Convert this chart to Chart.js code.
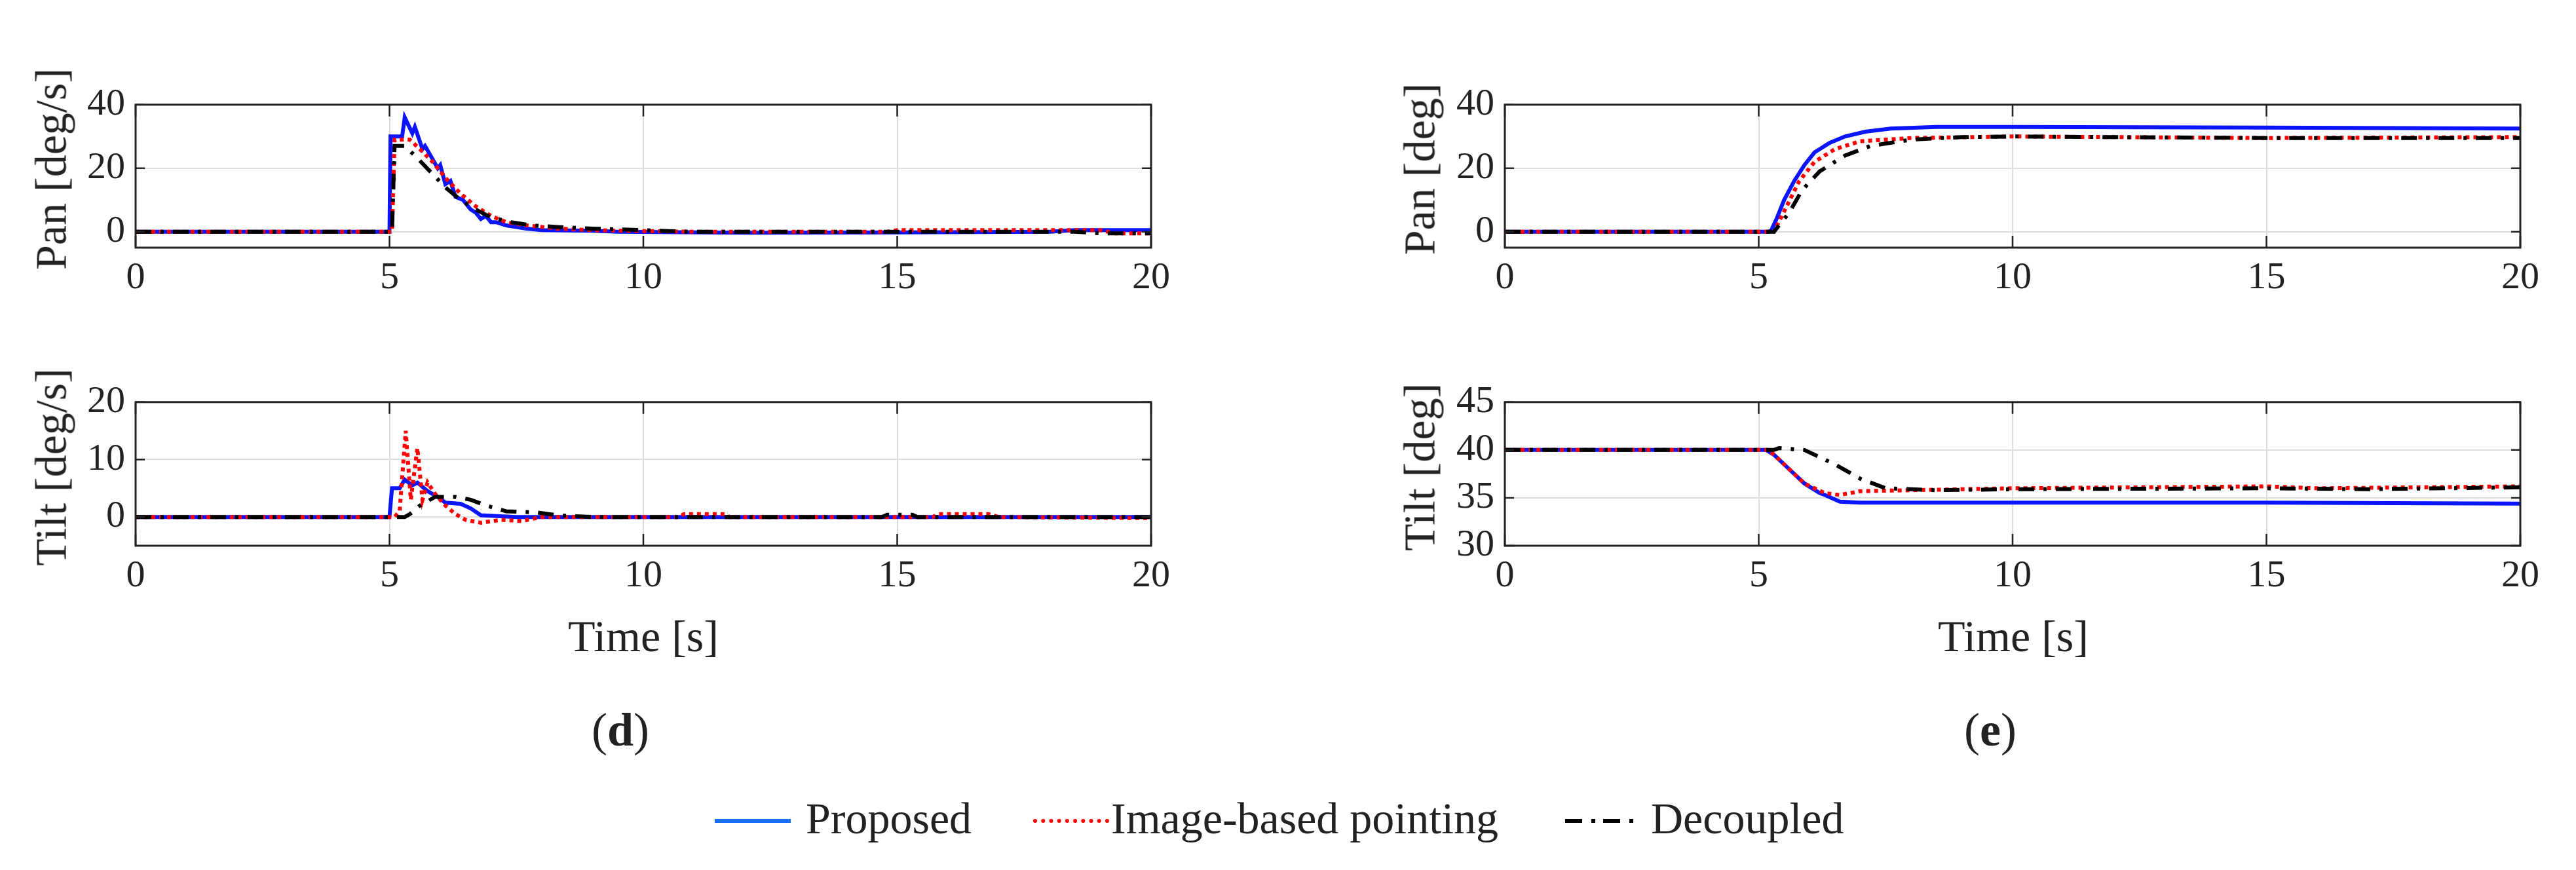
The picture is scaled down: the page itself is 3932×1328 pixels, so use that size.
<!DOCTYPE html>
<html>
<head>
<meta charset="utf-8">
<script src="https://cdn.jsdelivr.net/npm/chart.js@4.4.1/dist/chart.umd.min.js"></script>
<style>
  body { margin: 0; background: #fff; width: 3932px; height: 1328px; position: relative; overflow: hidden; font-family: "Liberation Serif", serif; color: #222; }
  canvas { position: absolute; }
  .t { position: absolute; font-size: 68px; white-space: nowrap; }
  .yt { position: absolute; font-size: 68px; white-space: nowrap; transform: translate(-50%, -50%) rotate(-90deg); }
  .leg { position: absolute; top: 1253px; height: 0; }
  .sw { position: absolute; width: 116px; top: -3px; }
</style>
</head>
<body>
<canvas id="dPan"></canvas>
<canvas id="dTilt"></canvas>
<canvas id="ePan"></canvas>
<canvas id="eTilt"></canvas>

<div class="yt" style="left:78px; top:258px;">Pan [deg/s]</div>
<div class="yt" style="left:78px; top:713px;">Tilt [deg/s]</div>
<div class="yt" style="left:2167px; top:258px;">Pan [deg]</div>
<div class="yt" style="left:2167px; top:713px;">Tilt [deg]</div>
<div class="t" style="left:982px; top:932px; transform:translateX(-50%);">Time [s]</div>
<div class="t" style="left:3073px; top:932px; transform:translateX(-50%);">Time [s]</div>
<div class="t" style="left:947px; top:1073px; transform:translateX(-50%); font-size:72px;">(<b>d</b>)</div>
<div class="t" style="left:3038px; top:1073px; transform:translateX(-50%); font-size:72px;">(<b>e</b>)</div>

<div class="leg" style="left:1091px;"><div class="sw" style="border-top:6px solid #1a6cff;"></div></div>
<div class="t" style="left:1230px; top:1210px;">Proposed</div>
<div class="leg" style="left:1577px;"><div class="sw" style="border-top:6px dotted #ff0000;"></div></div>
<div class="t" style="left:1696px; top:1210px;">Image-based pointing</div>
<div class="leg" style="left:2389px;"><div class="sw" style="height:6px; background:repeating-linear-gradient(90deg,#000 0 26px,#fff 26px 40px,#000 40px 46px,#fff 46px 58px);"></div></div>
<div class="t" style="left:2520px; top:1210px;">Decoupled</div>

<script>
// ---- data (time [s], value) ----
// (d) pan rate
const dPanPropT = [0, 5.0, 5.02, 5.25, 5.3, 5.45, 5.5, 5.65, 5.7, 5.95, 6.0, 6.1, 6.2, 6.3, 6.45, 6.6, 6.7, 6.8, 6.9, 7.0, 7.1, 7.3, 7.5, 7.7, 8.0, 9.0, 9.5, 12, 15, 18, 18.5, 20];
const dPanPropY = [0, 0, 30, 30, 36, 31, 33, 26, 27, 20, 21, 15, 16, 11, 10, 7, 6, 4, 5, 3, 3, 2, 1.5, 1, 0.5, 0.3, 0, -0.3, -0.2, 0, 0.5, 0.5];
const dPanImgT = [0, 5.05, 5.1, 5.4, 5.6, 5.85, 6.1, 6.4, 6.7, 7.0, 7.3, 7.7, 8.3, 9.0, 10, 11, 14.8, 15, 19, 19.3, 20];
const dPanImgY = [0, 0, 29, 29, 26, 22, 17, 12, 8, 5, 3, 2, 1, 0.5, 0.2, 0, 0, 0.5, 0.5, -0.5, -0.5];
const dPanDecT = [0, 5.05, 5.1, 5.3, 5.5, 5.8, 6.1, 6.4, 6.7, 7.0, 7.4, 7.8, 8.3, 9.0, 10, 10.5, 11, 18.5, 19, 20];
const dPanDecY = [0, 0, 27, 27, 24, 19, 14, 10, 7, 4.5, 3, 2, 1.5, 1, 0.5, 0.2, 0, 0, -0.5, -0.5];
// (d) tilt rate
const dTiltPropT = [0, 5.0, 5.05, 5.2, 5.3, 5.45, 5.55, 5.75, 5.95, 6.1, 6.4, 6.6, 6.8, 7.5, 20];
const dTiltPropY = [0, 0, 5, 5, 6.5, 5.5, 6, 4.5, 3.5, 2.5, 2.3, 1.5, 0.3, 0, 0];
const dTiltImgT = [0, 5.1, 5.2, 5.32, 5.42, 5.55, 5.65, 5.75, 5.9, 6.1, 6.3, 6.5, 6.8, 7.2, 7.6, 8.0, 10.7, 10.8, 11.6, 11.7, 15.7, 15.8, 16.8, 17, 20];
const dTiltImgY = [0, 0, 1, 15, 3, 12, 3, 6, 4, 2, 0.5, -0.5, -1, -0.5, -0.7, 0, 0, 0.5, 0.5, 0, 0, 0.5, 0.5, 0, -0.2];
const dTiltDecT = [0, 5.3, 5.4, 5.6, 5.9, 6.3, 6.6, 6.9, 7.3, 7.9, 8.3, 9.0, 14.7, 14.8, 15.3, 15.4, 20];
const dTiltDecY = [0, 0, 0.5, 2, 3.5, 3.5, 3, 2, 1, 0.8, 0.3, 0, 0, 0.4, 0.4, 0, 0];
// (e) pan angle
const ePanPropT = [0, 5.2, 5.25, 5.35, 5.5, 5.7, 5.9, 6.1, 6.4, 6.7, 7.1, 7.6, 8.5, 10, 15, 20];
const ePanPropY = [0, 0, 0.5, 4, 10, 16, 21, 25, 28, 30, 31.5, 32.5, 33, 33, 32.8, 32.5];
const ePanImgT = [0, 5.3, 5.55, 5.8, 6.1, 6.5, 7.0, 8.0, 10, 15, 20];
const ePanImgY = [0, 0, 8, 16, 22, 26, 28.5, 29.5, 30, 29.5, 29.8];
const ePanDecT = [0, 5.3, 5.6, 5.85, 6.2, 6.7, 7.2, 8.0, 9.0, 10, 15, 20];
const ePanDecY = [0, 0, 6, 13, 19, 24, 27, 29, 29.8, 30, 29.5, 29.5];
// (e) tilt angle
const eTiltPropT = [0, 5.15, 5.3, 5.6, 5.9, 6.2, 6.3, 6.6, 7.0, 15, 20];
const eTiltPropY = [40, 40, 39.5, 38, 36.5, 35.5, 35.3, 34.6, 34.5, 34.5, 34.4];
const eTiltImgT = [0, 5.2, 5.5, 5.9, 6.3, 6.6, 7.0, 8.0, 10, 15, 16, 20];
const eTiltImgY = [40, 40, 38.5, 36.5, 35.5, 35.3, 35.7, 35.8, 36.0, 36.2, 36.0, 36.2];
const eTiltDecT = [0, 5.3, 5.4, 5.9, 6.5, 7.0, 7.5, 8.5, 10, 15, 17, 20];
const eTiltDecY = [40, 40, 40.2, 40, 38.5, 37, 36, 35.8, 35.9, 36, 35.9, 36.1];

const timeTicks = [0, 5, 10, 15, 20];
const panRateTicks = [0, 20, 40];
const tiltRateTicks = [0, 10, 20];
const panTicks = [0, 20, 40];
const tiltTicks = [30, 35, 40, 45];

const pts = (t, y) => t.map((x, i) => ({ x: x, y: y[i] }));

const YW = 140, XH = 90, PADT = 30, PADR = 40;
const FONT = { family: "'Liberation Serif', serif", size: 58 };

const boxPlugin = {
  id: "box",
  afterDraw(chart) {
    const { ctx, chartArea: a, scales } = chart;
    ctx.save();
    ctx.strokeStyle = "#222";
    ctx.lineWidth = 3;
    ctx.strokeRect(a.left, a.top, a.right - a.left, a.bottom - a.top);
    // inner tick marks like a MATLAB box
    ctx.lineWidth = 2.5;
    scales.x.ticks.forEach(t => {
      const px = scales.x.getPixelForValue(t.value);
      ctx.beginPath();
      ctx.moveTo(px, a.bottom); ctx.lineTo(px, a.bottom - 18);
      ctx.moveTo(px, a.top); ctx.lineTo(px, a.top + 18);
      ctx.stroke();
    });
    scales.y.ticks.forEach(t => {
      const py = scales.y.getPixelForValue(t.value);
      ctx.beginPath();
      ctx.moveTo(a.left, py); ctx.lineTo(a.left + 14, py);
      ctx.moveTo(a.right, py); ctx.lineTo(a.right - 14, py);
      ctx.stroke();
    });
    ctx.restore();
  }
};

function panel(id, left, top, w, h, ymin, ymax, yticks, series) {
  const cv = document.getElementById(id);
  const cw = w + YW + PADR, ch = h + PADT + XH;
  cv.style.left = (left - YW) + "px";
  cv.style.top = (top - PADT) + "px";
  cv.style.width = cw + "px";
  cv.style.height = ch + "px";
  cv.width = cw; cv.height = ch;
  new Chart(cv.getContext("2d"), {
    type: "line",
    data: {
      datasets: [
        { data: pts(series[2][0], series[2][1]), borderColor: "#000", borderWidth: 6, borderDash: [24, 14, 5, 14] },
        { data: pts(series[1][0], series[1][1]), borderColor: "#ff0000", borderWidth: 6, borderDash: [6, 6] },
        { data: pts(series[0][0], series[0][1]), borderColor: "#0a14ff", borderWidth: 6 }
      ].map(d => Object.assign(d, { pointRadius: 0, tension: 0, fill: false }))
    },
    options: {
      responsive: false,
      animation: false,
      layout: { padding: { top: PADT, right: PADR, left: 0, bottom: 0 } },
      plugins: { legend: { display: false }, tooltip: { enabled: false } },
      scales: {
        x: {
          type: "linear", min: 0, max: 20,
          afterBuildTicks: s => { s.ticks = timeTicks.map(v => ({ value: v })); },
          afterFit: s => { s.height = XH; },
          grid: { color: "#dddddd", lineWidth: 2, drawTicks: false },
          border: { display: false },
          ticks: { font: FONT, color: "#222", padding: 12 }
        },
        y: {
          min: ymin, max: ymax,
          afterBuildTicks: s => { s.ticks = yticks.map(v => ({ value: v })); },
          afterFit: s => { s.width = YW; },
          grid: { color: "#dddddd", lineWidth: 2, drawTicks: false },
          border: { display: false },
          ticks: { font: FONT, color: "#222", padding: 16 }
        }
      }
    },
    plugins: [boxPlugin]
  });
}

const LX = 207, RX = 2297, PW = 1551, PH1 = 239, PH2 = 240;
panel("dPan", LX, 139, PW, PH1, -5, 40, panRateTicks,
  [[dPanPropT, dPanPropY], [dPanImgT, dPanImgY], [dPanDecT, dPanDecY]]);
panel("dTilt", LX, 593, PW, PH2, -5, 20, tiltRateTicks,
  [[dTiltPropT, dTiltPropY], [dTiltImgT, dTiltImgY], [dTiltDecT, dTiltDecY]]);
panel("ePan", RX, 139, PW, PH1, -5, 40, panTicks,
  [[ePanPropT, ePanPropY], [ePanImgT, ePanImgY], [ePanDecT, ePanDecY]]);
panel("eTilt", RX, 593, PW, PH2, 30, 45, tiltTicks,
  [[eTiltPropT, eTiltPropY], [eTiltImgT, eTiltImgY], [eTiltDecT, eTiltDecY]]);
</script>
</body>
</html>
